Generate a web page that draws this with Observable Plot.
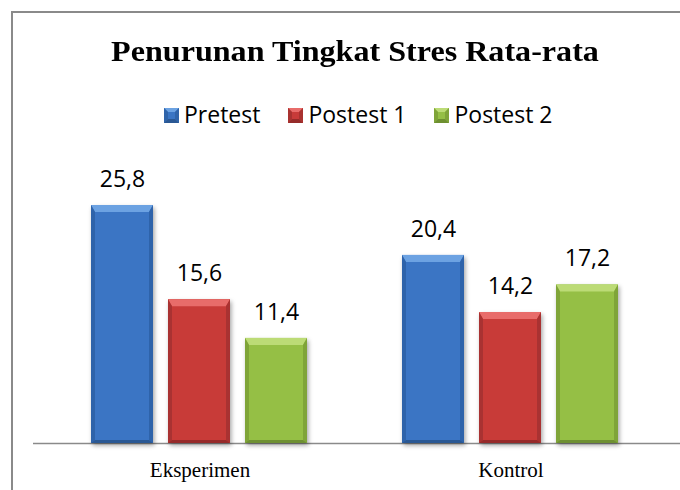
<!DOCTYPE html>
<html>
<head>
<meta charset="utf-8">
<script src="https://cdn.jsdelivr.net/npm/d3@7"></script>
<script src="https://cdn.jsdelivr.net/npm/@observablehq/plot@0.6"></script>
<style>
  html, body { margin: 0; padding: 0; background: #fff; }
  #wrap { position: relative; width: 680px; height: 490px; overflow: hidden; background: #fff; }
  #frame { position: absolute; left: 11px; top: 11px; width: 700px; height: 500px;
           border-left: 2px solid #8a8a8a; border-top: 2px solid #8a8a8a; }
  #title { position: absolute; left: 0; width: 710px; top: 34px; text-align: center;
           font-family: "Liberation Serif", "Times New Roman", serif; font-weight: bold;
           font-size: 30px; color: #000; line-height: 34px; transform: scaleX(1.07); transform-origin: 355px 0; }
  #legend { position: absolute; left: 164px; top: 99px; display: flex; gap: 28px;
            font-family: "Open Sans", sans-serif; font-size: 23px; color: #000; line-height: 30px; }
  #legend .item { display: flex; align-items: center; gap: 5px; }
  #legend svg { display: block; margin-top: 3px; }
  #chart { position: absolute; left: 0; top: 140px; }
</style>
</head>
<body>
<div id="wrap">
  <div id="frame"></div>
  <div id="title"></div>
  <div id="legend"></div>
  <div id="chart"></div>
</div>
<script>
// ---- data ----
const titleText = "Penurunan Tingkat Stres Rata-rata";
const categories = ["Eksperimen", "Kontrol"];
const series = ["Pretest", "Postest 1", "Postest 2"];
const eksperimenValues = [25.8, 15.6, 11.4];
const kontrolValues = [20.4, 14.2, 17.2];

// ---- styles ----
const shades = {
  "Pretest":   {face: "#3A75C4", top: "#6CA2E2", side: "#2F64AA", bottom: "#2A5894"},
  "Postest 1": {face: "#C83B39", top: "#E86C6A", side: "#A93230", bottom: "#962C2A"},
  "Postest 2": {face: "#95BF45", top: "#BCDB76", side: "#7FA438", bottom: "#6E9030"}
};

const table = [];
categories.forEach((c, ci) => {
  const vals = ci === 0 ? eksperimenValues : kontrolValues;
  series.forEach((s, si) => table.push({category: c, series: s, value: vals[si]}));
});
const fmt = v => v.toFixed(1).replace(".", ",");

document.getElementById("title").textContent = titleText;

// legend
const legend = document.getElementById("legend");
series.forEach(s => {
  const sh = shades[s];
  const item = document.createElement("div");
  item.className = "item";
  item.innerHTML = `<svg width="15" height="15">
      <rect x="0" y="0" width="15" height="15" fill="${sh.face}"/>
      <polygon points="0,0 15,0 11,4 4,4" fill="${sh.top}"/>
      <polygon points="0,0 4,4 4,11 0,15" fill="${sh.side}"/>
      <polygon points="15,0 11,4 11,11 15,15" fill="${sh.side}"/>
      <polygon points="0,15 4,11 11,11 15,15" fill="${sh.bottom}"/>
    </svg><span>${s}</span>`;
  legend.appendChild(item);
});

const plot = Plot.plot({
  width: 680,
  height: 350,
  marginLeft: 43,
  marginRight: 14,
  marginTop: 26.4,
  marginBottom: 47,
  style: {background: "transparent", overflow: "visible"},
  fx: {domain: categories, padding: 0, label: null},
  x: {domain: series, paddingInner: 0.19, paddingOuter: 0.593, axis: null},
  y: {domain: [0, 30], axis: null},
  color: {domain: series, range: series.map(s => shades[s].face)},
  marks: [
    Plot.axisFx({anchor: "bottom", tickSize: 0, tickPadding: 19, label: null,
                 fontSize: 21, fontFamily: "Liberation Serif, Times New Roman, serif", fill: "#000"}),
    // baseline drawn once, in the first facet, extended across the whole plot width
    Plot.ruleY([categories[0]], {fx: d => d, y: () => 0, stroke: "#8a8a8a", strokeWidth: 1.5,
                                 insetLeft: -11, insetRight: -400}),
    Plot.barY(table, {fx: "category", x: "series", y: "value", fill: "series"}),
    Plot.text(table, {fx: "category", x: "series", y: "value", text: d => fmt(d.value),
                      dy: -26, fontSize: 23, fontFamily: "Open Sans, sans-serif", fill: "#000"})
  ]
});

// bevel + shadow decoration on the library-drawn bars
const svgNS = "http://www.w3.org/2000/svg";
const defs = document.createElementNS(svgNS, "defs");
defs.innerHTML = `<filter id="barShadow" x="-20%" y="-20%" width="150%" height="140%">
  <feDropShadow dx="1.5" dy="2.5" stdDeviation="2" flood-color="#000" flood-opacity="0.35"/>
</filter>`;
plot.insertBefore(defs, plot.firstChild);

const barGroups = plot.querySelectorAll('g[aria-label="bar"]');
barGroups.forEach(g => {
  g.querySelectorAll("rect").forEach(r => {
    const x = +r.getAttribute("x"), y = +r.getAttribute("y");
    const w = +r.getAttribute("width"), h = +r.getAttribute("height");
    const fill = r.getAttribute("fill");
    const s = series.find(k => shades[k].face.toLowerCase() === (fill || "").toLowerCase());
    if (!s) return;
    const sh = shades[s];
    const parent = r.parentNode;
    const grp = document.createElementNS(svgNS, "g");
    grp.setAttribute("filter", "url(#barShadow)");
    if (r.getAttribute("transform")) grp.setAttribute("transform", r.getAttribute("transform"));
    parent.insertBefore(grp, r);
    r.removeAttribute("transform");
    grp.appendChild(r);
    const bt = 7, bs = 4, bb = 3;
    const poly = (pts, color) => {
      const p = document.createElementNS(svgNS, "polygon");
      p.setAttribute("points", pts.map(q => q.join(",")).join(" "));
      p.setAttribute("fill", color);
      grp.appendChild(p);
    };
    poly([[x, y], [x + w, y], [x + w - bs, y + bt], [x + bs, y + bt]], sh.top);
    poly([[x, y], [x + bs, y + bt], [x + bs, y + h - bb], [x, y + h]], sh.side);
    poly([[x + w, y], [x + w - bs, y + bt], [x + w - bs, y + h - bb], [x + w, y + h]], sh.side);
    poly([[x, y + h], [x + bs, y + h - bb], [x + w - bs, y + h - bb], [x + w, y + h]], sh.bottom);
  });
});

document.getElementById("chart").appendChild(plot);
</script>
</body>
</html>
